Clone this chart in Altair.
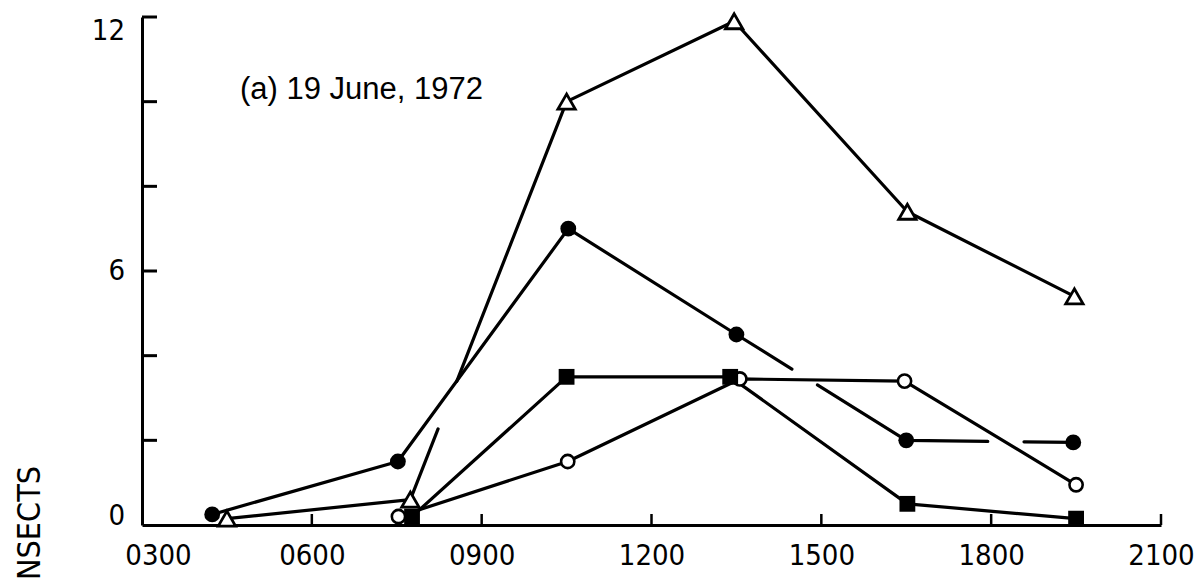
import altair as alt
import pandas as pd

# Insect counts per sampling visit; times are decimal hours of the day
tri_t = [4.5, 7.74, 10.5, 13.46, 16.52, 19.47]
tri_v = [0.15, 0.6, 10.0, 11.9, 7.4, 5.4]
dot_t = [4.24, 7.52, 10.53, 13.5, 16.5, 19.45]
dot_v = [0.25, 1.5, 7.0, 4.5, 2.0, 1.95]
ring_t = [7.53, 10.52, 13.56, 16.47, 19.5]
ring_v = [0.2, 1.5, 3.45, 3.4, 0.95]
sq_t = [7.77, 10.5, 13.39, 16.52, 19.5]
sq_v = [0.2, 3.5, 3.5, 0.5, 0.15]

# Where a line is broken as it passes behind another: (series, segment, from hour, to hour)
breaks = [("tri", 1, 8.23, 8.56), ("dot", 3, 14.48, 14.93), ("dot", 4, 17.94, 18.58)]

x_label_values = [3, 6, 9, 12, 15, 18, 21]
x_tick_values = [6, 9, 12, 15, 18, 21]
y_tick_values = [2, 4, 6, 8, 10, 12]
y_label_values = [0, 6, 12]

panel_label = "(a) 19 June, 1972"
y_title = "NSECTS"

W, H = 1019, 508
NARROW = "DejaVu Sans Condensed, Liberation Sans, sans-serif"
REGULAR = "Liberation Sans, Arial, sans-serif"

series = {
    "tri": (tri_t, tri_v),
    "dot": (dot_t, dot_v),
    "ring": (ring_t, ring_v),
    "sq": (sq_t, sq_v),
}

# Split each polyline into pieces at its breaks
rows = []
for name, (ts, vs) in series.items():
    piece = 0
    k = 0
    rows.append(dict(s=name, piece=f"{name}{piece}", k=k, t=ts[0], v=vs[0]))
    for i in range(len(ts) - 1):
        for (bn, seg, h0, h1) in breaks:
            if bn == name and seg == i:
                f0 = (h0 - ts[i]) / (ts[i + 1] - ts[i])
                f1 = (h1 - ts[i]) / (ts[i + 1] - ts[i])
                k += 1
                rows.append(dict(s=name, piece=f"{name}{piece}", k=k, t=h0,
                                 v=vs[i] + f0 * (vs[i + 1] - vs[i])))
                piece += 1
                k += 1
                rows.append(dict(s=name, piece=f"{name}{piece}", k=k, t=h1,
                                 v=vs[i] + f1 * (vs[i + 1] - vs[i])))
        k += 1
        rows.append(dict(s=name, piece=f"{name}{piece}", k=k, t=ts[i + 1], v=vs[i + 1]))
lines_df = pd.DataFrame(rows)

xscale = alt.Scale(domain=[3, 21], nice=False, zero=False)
yscale = alt.Scale(domain=[0, 12], nice=False, zero=True)

xaxis = alt.Axis(
    values=x_label_values,
    labelExpr="format(datum.value * 100, '04d')",
    title=None, grid=False, ticks=False, tickSize=0,
    domainColor="black", domainWidth=3,
    labelFont=NARROW, labelFontSize=29, labelColor="black",
    labelPadding=16, labelFlush=False, labelOverlap=False,
    labelOffset={"condition": {"test": "datum.value == 3", "value": 16}, "value": 0},
)
yaxis = alt.Axis(
    title=None, grid=False, ticks=False, tickSize=0, labels=False,
    domainColor="black", domainWidth=3,
)


def X(field):
    return alt.X(field, type="quantitative", scale=xscale, axis=xaxis)


def Y(field):
    return alt.Y(field, type="quantitative", scale=yscale, axis=yaxis)


lines = alt.Chart(lines_df).mark_line(
    color="black", strokeWidth=3.2, strokeCap="round", strokeJoin="round"
).encode(x=X("t"), y=Y("v"), detail="piece:N", order="k:Q")


def pts(ts, vs):
    return pd.DataFrame({"t": ts, "v": vs})


rings = alt.Chart(pts(ring_t, ring_v)).mark_point(
    shape="circle", filled=True, fill="white", stroke="black", strokeWidth=2.6,
    size=175, opacity=1,
).encode(x=X("t"), y=Y("v"))

squares = alt.Chart(pts(sq_t, sq_v)).mark_point(
    shape="square", filled=True, fill="black", size=250, opacity=1,
).encode(x=X("t"), y=Y("v"))

dots = alt.Chart(pts(dot_t, dot_v)).mark_point(
    shape="circle", filled=True, fill="black", size=250, opacity=1,
).encode(x=X("t"), y=Y("v"))

tris = alt.Chart(pts(tri_t, tri_v)).mark_point(
    shape="triangle-up", filled=True, fill="white", stroke="black",
    strokeWidth=2.8, size=300, opacity=1,
).encode(x=X("t"), y=Y("v"))

# Inward-pointing axis ticks
xt = alt.Chart(pd.DataFrame({"t": x_tick_values})).mark_rule(
    color="black", strokeWidth=2.5
).encode(x=X("t"), y=alt.value(H), y2=alt.value(H - 11))

yt = alt.Chart(pd.DataFrame({"v": y_tick_values})).mark_rule(
    color="black", strokeWidth=3
).encode(y=Y("v"), x=alt.value(0), x2=alt.value(15))

ylab_df = pd.DataFrame({"v": y_label_values, "s": [str(v) for v in y_label_values]})


def ylab(value, baseline):
    return alt.Chart(ylab_df).transform_filter(
        alt.datum.v == value
    ).mark_text(
        font=NARROW, fontSize=29, color="black", align="right", baseline=baseline
    ).encode(y=Y("v"), x=alt.value(-17), text="s:N")


ylabels = ylab(12, "top") + ylab(6, "middle") + ylab(0, "alphabetic")

panel = alt.Chart(pd.DataFrame({"s": [panel_label]})).mark_text(
    font=REGULAR, fontSize=31, color="black", align="left", baseline="alphabetic"
).encode(x=alt.value(98), y=alt.value(82), text="s:N")

ytitle = alt.Chart(pd.DataFrame({"s": [y_title]})).mark_text(
    font=NARROW, fontSize=32, color="black", align="right", baseline="middle",
    angle=270,
).encode(x=alt.value(-112), y=alt.value(449), text="s:N")

chart = alt.layer(
    lines, rings, squares, dots, tris, xt, yt, ylabels, panel, ytitle
).properties(
    width=W, height=H,
    padding={"left": 142, "top": 17, "right": 37, "bottom": 56},
    autosize="none",
    background="white",
).configure_view(stroke=None)

chart.save("out.html", embed_options={"renderer": "svg", "actions": False})
